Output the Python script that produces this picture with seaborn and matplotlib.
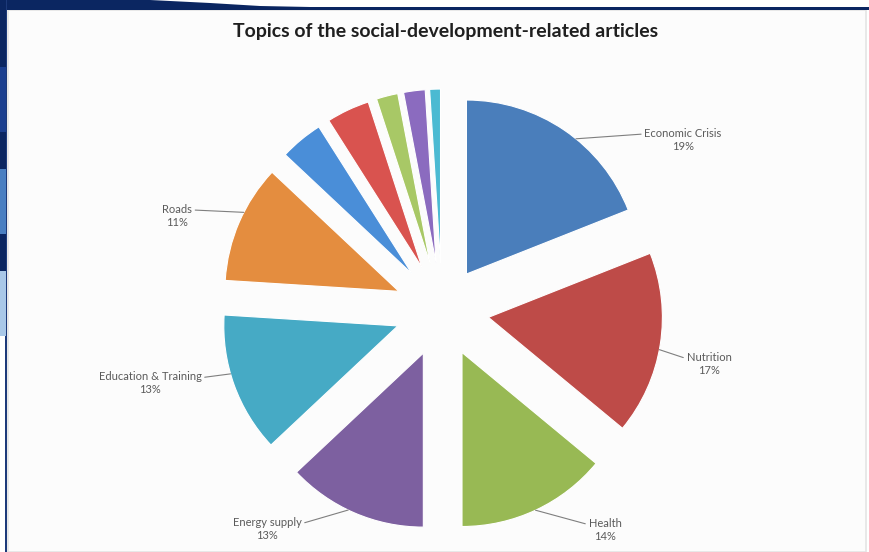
import numpy as np
import pandas as pd
import matplotlib
matplotlib.use('Agg')
import matplotlib.pyplot as plt
import seaborn as sns
from matplotlib.patches import Rectangle, Polygon

# data
topics = ['Economic Crisis', 'Nutrition', 'Health', 'Energy supply',
          'Education & Training', 'Roads']
topic_share = [19, 17, 14, 13, 13, 11]
other_share = [4, 4, 2, 2, 1]          # small unlabeled slices
title = 'Topics of the social-development-related articles'

topic_colors = ['#4a7ebb', '#be4b48', '#98b954', '#7d60a0', '#46aac5', '#e48d3f']
other_colors = ['#4a8ed8', '#d9534f', '#a8c866', '#8b6bbf', '#4bbad2']

shares = topic_share + other_share
colors = topic_colors + other_colors
explode = [0.25] + [0.27] * (len(shares) - 1)

sns.set_theme(style='white')
plt.rcParams['font.family'] = ['Lato', 'DejaVu Sans']

W, H = 870, 552
CX, CY, R = 442, 310, 174   # pie centre and radius in pixels


def px(x, y):
    return (x - CX) / R, (CY - y) / R


fig = plt.figure(figsize=(W / 100, H / 100), dpi=100)
fig.patch.set_facecolor('white')

# slide frame behind the chart
bg = fig.add_axes([0, 0, 1, 1], zorder=0)
bg.set_xlim(0, W)
bg.set_ylim(H, 0)
bg.axis('off')
navy = '#0b2661'
bg.add_patch(Rectangle((8, 10), W - 12, H - 10, facecolor='#fcfcfc', edgecolor='#e4e4e4', lw=1.2))
bg.add_patch(Rectangle((0, 7), W, 3, facecolor=navy, edgecolor='none'))
bg.add_patch(Polygon([(0, 0), (150, 0), (210, 3), (260, 6), (310, 7), (310, 10), (0, 10)],
                     facecolor=navy, edgecolor='none'))
bg.add_patch(Rectangle((0, 0), 6.5, H, facecolor='white', edgecolor='none'))
bg.add_patch(Rectangle((5.5, 0), 1.8, H, facecolor='#1d3a7a', edgecolor='none'))
for y0, y1, c in [(0, 67, navy), (67, 132, '#1b3f8f'), (132, 169, navy),
                  (169, 234, '#4a7fc1'), (234, 271, navy), (271, 336, '#a9c8e8')]:
    bg.add_patch(Rectangle((0, y0), 6.5, y1 - y0, facecolor=c, edgecolor='none'))

ax = fig.add_axes([0, 0, 1, 1], zorder=1)
ax.patch.set_alpha(0)
wedges, _ = ax.pie(shares, colors=colors, startangle=90, counterclock=False,
                   explode=explode,
                   wedgeprops=dict(edgecolor='white', linewidth=0.8))
x0, y1 = px(0, 0)
x1, y0 = px(W, H)
ax.set_xlim(x0, x1)
ax.set_ylim(y0, y1)
ax.set_aspect('auto')
ax.axis('off')

# label placement: text centre (px), leader angle on the arc (deg), leader attach point
label_pos = [(683, 140), (709, 364), (605, 530), (267, 529), (150, 383), (177, 216)]
leader_ang = [51, -10.7, -65, -115.6, -164, 153]
rel = [(0, 0.75), (0, 0.72), (0, 0.72), (1, 0.72), (1, 0.72), (1, 0.75)]

for i, name in enumerate(topics):
    w = wedges[i]
    a = np.deg2rad(leader_ang[i])
    xy = (w.center[0] + w.r * np.cos(a), w.center[1] + w.r * np.sin(a))
    ax.annotate(f'{name}\n{topic_share[i]}%', xy=xy, xytext=px(*label_pos[i]),
                ha='center', va='center', fontsize=8, color='#5a5a5a',
                linespacing=1.25,
                arrowprops=dict(arrowstyle='-', color='#7f7f7f', lw=0.8,
                                shrinkA=0, shrinkB=0, relpos=rel[i]))

fig.text(446 / W, 1 - 32 / H, title, ha='center', va='center', fontsize=14,
         fontweight='bold', color='#1f1f1f')

fig.savefig('out.png', dpi=100)
